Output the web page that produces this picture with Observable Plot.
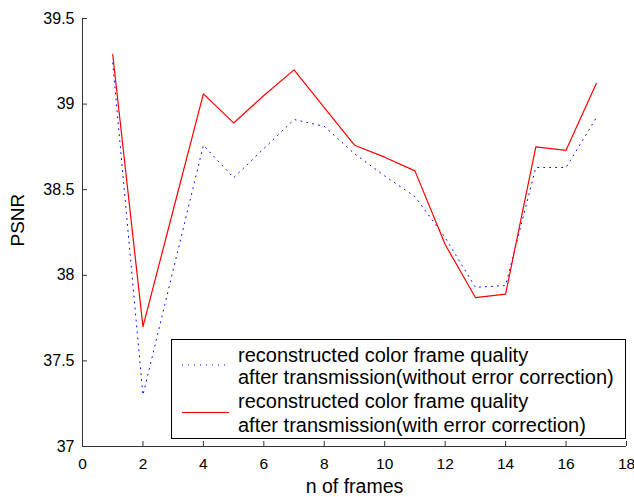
<!DOCTYPE html>
<html><head><meta charset="utf-8">
<script src="https://cdn.jsdelivr.net/npm/d3@7"></script>
<script src="https://cdn.jsdelivr.net/npm/@observablehq/plot@0.6"></script>
<style>
body{margin:0;background:#fff;font-family:"Liberation Sans",Arial,sans-serif;}
#wrap{position:relative;width:634px;height:497px;}
#legend{position:absolute;left:171px;top:339px;width:453px;height:98px;border:1px solid #000;background:#fff;font-size:20px;color:#000;}
#legend .t{position:absolute;left:66px;white-space:nowrap;line-height:1;}
#legend svg{position:absolute;left:0;top:0;}
</style></head><body><div id="wrap"></div>
<script>
const frames = [1,2,3,4,5,6,7,8,9,10,11,12,13,14,15,16,17];
const psnrNoEC = [39.24,37.30,38.03,38.76,38.57,38.74,38.91,38.87,38.71,38.58,38.46,38.22,37.93,37.94,38.63,38.63,38.92];
const psnrEC   = [39.29,37.70,38.38,39.06,38.89,39.05,39.20,38.98,38.76,38.69,38.61,38.18,37.87,37.89,38.75,38.73,39.12];
const xTicks = [0,2,4,6,8,10,12,14,16,18];
const yTicks = [37,37.5,38,38.5,39,39.5];
const seriesNames = [
  ["reconstructed color frame quality","after transmission(without error correction)"],
  ["reconstructed color frame quality","after transmission(with error correction)"]
];
const xLabel = "n of frames";
const yLabel = "PSNR";

const rowsNo = frames.map((f,i)=>({frame:f, psnr:psnrNoEC[i]}));
const rowsEC = frames.map((f,i)=>({frame:f, psnr:psnrEC[i]}));
const axisColor = "#333";

const chart = Plot.plot({
  width: 634, height: 497,
  marginLeft: 82, marginRight: 8, marginTop: 18, marginBottom: 51,
  style: {fontFamily: "Liberation Sans, Arial, sans-serif", background: "white", color: "black", overflow: "visible"},
  x: {domain: [0,18]},
  y: {domain: [37,39.5]},
  marks: [
    Plot.ruleX([0], {stroke: axisColor}),
    Plot.ruleY([37], {stroke: axisColor}),
    Plot.axisX({ticks: xTicks, tickSize: 5, dy: -5, fill: "none", stroke: axisColor, label: null}),
    Plot.axisY({ticks: yTicks, tickSize: 5, dx: 5, fill: "none", stroke: axisColor, label: null}),
    Plot.axisX({ticks: xTicks, tickSize: 0, tickPadding: 11, fontSize: 15.5, label: null}),
    Plot.axisY({ticks: yTicks, tickSize: 0, tickPadding: 8, fontSize: 16, tickFormat: d => String(d), label: null}),
    Plot.text([xLabel], {frameAnchor: "bottom", dy: 46, lineAnchor: "bottom", fontSize: 19.5}),
    Plot.text([yLabel], {frameAnchor: "left", dx: -65, dy: 14, rotate: -90, lineAnchor: "middle", fontSize: 19}),
    Plot.line(rowsNo, {x: "frame", y: "psnr", stroke: "blue", strokeWidth: 1, strokeDasharray: "1,5"}),
    Plot.line(rowsEC, {x: "frame", y: "psnr", stroke: "red", strokeWidth: 1.2})
  ]
});
const wrap = document.getElementById("wrap");
wrap.appendChild(chart);

const leg = document.createElement("div");
leg.id = "legend";
leg.innerHTML = `<svg width="453" height="98">
  <line x1="10" x2="57" y1="25" y2="25" stroke="blue" stroke-width="1" stroke-dasharray="1,5"/>
  <line x1="10" x2="57" y1="72.5" y2="72.5" stroke="red" stroke-width="1.2"/>
</svg>`;
const tops = [5, 27, 51, 75];
[...seriesNames[0], ...seriesNames[1]].forEach((s,i)=>{
  const d = document.createElement("div");
  d.className = "t"; d.style.top = tops[i] + "px"; d.textContent = s;
  leg.appendChild(d);
});
wrap.appendChild(leg);
</script></body></html>
